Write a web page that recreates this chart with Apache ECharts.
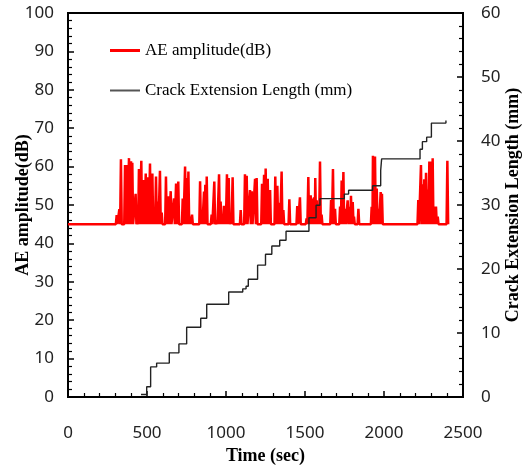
<!DOCTYPE html>
<html>
<head>
<meta charset="utf-8">
<script src="https://cdn.jsdelivr.net/npm/echarts@6/dist/echarts.min.js"></script>
<style>html,body{margin:0;padding:0;background:#fff}#c{width:529px;height:469px}</style>
</head>
<body>
<div id="c"></div>
<script>
// Time (sec) ticks
var xTicks = [0, 500, 1000, 1500, 2000, 2500];
// AE amplitude baseline (dB) and range of the recording
var aeBaseline = 45;
var aeStart = 0, aeEnd = 2405;
// AE amplitude spikes: time (sec) and peak amplitude (dB)
var spikeTimes = [308,325,335,361,371,386,399,407,428,439,449,464,479,492,506,519,534,546,557,568,582,593,620,635,650,671,684,698,726,741,751,762,772,785,836,846,861,869,878,909,926,941,956,966,977,987,994,1006,1017,1030,1042,1093,1120,1131,1152,1163,1184,1194,1228,1241,1251,1264,1279,1312,1325,1338,1352,1363,1401,1451,1468,1510,1521,1536,1546,1557,1565,1574,1584,1595,1605,1665,1677,1690,1722,1732,1743,1753,1770,1781,1791,1802,1810,1838,1922,1930,1943,1954,1964,1979,1987,2217,2234,2245,2255,2266,2276,2287,2298,2308,2321,2329,2340,2401];
var spikePeaks = [47.4,48.9,61.9,60.4,60.4,62.2,61.4,61,52.9,46,59.4,61.5,56.5,58.2,57.2,60.8,58.2,48.5,57.4,50.9,58.9,48,57.4,52.3,53.6,51.7,55.6,56.1,51.7,60,57,58.7,47,47.5,56.2,47.5,53.5,55.3,57.4,47.5,56.1,46,58,50.9,47,49.8,46.5,58,57,47,57.2,48.7,58,57.6,53.9,53.6,56.8,57,55.5,57.9,59.5,56.8,53.9,57.4,55,50.6,58.7,48.7,51.5,49.7,52,46.5,57.3,52.5,51.7,52,57,51.2,46.5,61.3,47.5,51.3,59.4,49,49.6,56.4,58.6,49,51.2,49.5,52.4,50.8,47,49,49.5,62.8,62.6,54.3,49,53.4,52.9,51.3,60.4,55.4,56.7,58.4,54,61.3,61.3,62.2,49.6,49.6,47,61.5];
// Crack extension length: time of each step (sec) and new length (mm)
var crackTimes = [462,498,523,561,641,702,751,840,878,1017,1106,1127,1141,1200,1250,1290,1340,1380,1525,1570,1595,1749,1776,1928,1979,1985,2228,2243,2270,2300,2392];
var crackLengths = [0.4,1.6,4.7,5.3,6.9,8.3,10.9,12.3,14.5,16.4,16.9,17.3,18.4,20.6,22.3,23.6,24.5,25.9,28.0,29.95,31.0,31.7,32.3,33.0,35.4,37.2,38.7,39.9,40.6,42.8,43.2];

var half = 5; // half width of a spike in seconds (drawing style)
var aeData = [[aeStart, aeBaseline]];
for (var i = 0; i < spikeTimes.length; i++) {
  aeData.push([spikeTimes[i] - half, aeBaseline]);
  aeData.push([spikeTimes[i], spikePeaks[i]]);
  aeData.push([spikeTimes[i] + half, aeBaseline]);
}
aeData.push([aeEnd, aeBaseline]);
var crackData = crackTimes.map(function (t, i) { return [t, crackLengths[i]]; });

var tickFont = {fontFamily: 'Noto Sans', fontSize: 17, color: '#222'};
var nameFont = {fontFamily: 'Liberation Serif', fontSize: 18, fontWeight: 'bold', color: '#000'};
var axisLine = {show: true, lineStyle: {color: '#000', width: 2}};
var legendText = {fontFamily: 'Liberation Serif', fontSize: 17, color: '#000'};

var chart = echarts.init(document.getElementById('c'), null, {renderer: 'canvas'});
chart.setOption({
  animation: false,
  backgroundColor: '#fff',
  grid: {left: 68, top: 13, right: 66, bottom: 72, containLabel: false, outerBoundsMode: 'none',
         show: true, borderColor: '#000', borderWidth: 2, backgroundColor: 'transparent'},
  legend: [{
    orient: 'vertical', left: 105, top: 37, itemWidth: 30, itemHeight: 3, icon: 'rect',
    textStyle: legendText, selectedMode: false,
    data: [{name: 'AE amplitude(dB)', itemStyle: {color: '#ff0000'}}]
  }, {
    orient: 'vertical', left: 105, top: 77, itemWidth: 30, itemHeight: 2, icon: 'rect',
    textStyle: legendText, selectedMode: false,
    data: [{name: 'Crack Extension Length (mm)', itemStyle: {color: '#555'}}]
  }],
  xAxis: {
    type: 'value', min: 0, max: 2500, interval: 500,
    name: 'Time (sec)', nameLocation: 'middle', nameGap: 50, nameTextStyle: nameFont, nameMoveOverlap: false,
    axisLine: axisLine,
    axisTick: {show: true, inside: true, length: 6, lineStyle: {color: '#000', width: 1.5}},
    minorTick: {show: true, splitNumber: 5, length: 4, lineStyle: {color: '#000', width: 1.2}},
    axisLabel: Object.assign({margin: 28, formatter: function (v) { return xTicks.indexOf(v) >= 0 ? String(v) : ''; }}, tickFont),
    splitLine: {show: false}
  },
  yAxis: [{
    type: 'value', min: 0, max: 100, interval: 10, position: 'left',
    name: 'AE amplitude(dB)', nameLocation: 'middle', nameGap: 36, nameTextStyle: nameFont, nameMoveOverlap: false,
    axisLine: axisLine,
    axisTick: {show: true, inside: true, length: 6, lineStyle: {color: '#000', width: 1.5}},
    minorTick: {show: true, splitNumber: 5, length: 4, lineStyle: {color: '#000', width: 1.2}},
    axisLabel: Object.assign({margin: 14}, tickFont),
    splitLine: {show: false}
  }, {
    type: 'value', min: 0, max: 60, interval: 10, position: 'right',
    name: 'Crack Extension Length (mm)', nameLocation: 'middle', nameGap: 41, nameRotate: 90, nameTextStyle: nameFont, nameMoveOverlap: false,
    axisLine: axisLine,
    axisTick: {show: true, inside: true, length: 6, lineStyle: {color: '#000', width: 1.5}},
    minorTick: {show: true, splitNumber: 5, length: 4, lineStyle: {color: '#000', width: 1.2}},
    axisLabel: Object.assign({margin: 18}, tickFont),
    splitLine: {show: false}
  }],
  series: [{
    name: 'AE amplitude(dB)', type: 'line', yAxisIndex: 0, data: aeData,
    symbol: 'none', lineStyle: {color: '#ff0000', width: 2.5}, itemStyle: {color: '#ff0000'}, z: 2
  }, {
    name: 'Crack Extension Length (mm)', type: 'line', yAxisIndex: 1, data: crackData, step: 'end',
    symbol: 'none', lineStyle: {color: '#222', width: 1.4}, itemStyle: {color: '#555'}, z: 3
  }]
});
</script>
</body>
</html>
